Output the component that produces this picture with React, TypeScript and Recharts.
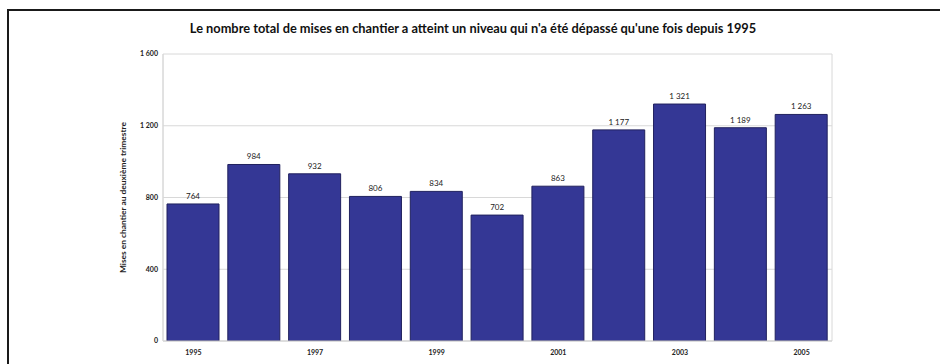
import React from 'react';
import { BarChart, Bar, XAxis, YAxis, CartesianGrid, LabelList } from 'recharts';

const years = ['1995', '1996', '1997', '1998', '1999', '2000', '2001', '2002', '2003', '2004', '2005'];
const starts = [764, 984, 932, 806, 834, 702, 863, 1177, 1321, 1189, 1263];
const yTicks = [0, 400, 800, 1200, 1600];

const title = "Le nombre total de mises en chantier a atteint un niveau qui n'a été dépassé qu'une fois depuis 1995";
const yTitle = 'Mises en chantier au deuxième trimestre';

const data = years.map((y, i) => ({ year: y, value: starts[i] }));

const fmt = (v: number) => {
  const s = String(v);
  return s.length > 3 ? s.slice(0, s.length - 3) + '\u00a0' + s.slice(s.length - 3) : s;
};

const FONT = 'Lato, "Open Sans", sans-serif';

const YLabel = (props: any) => {
  const vb = props.viewBox || {};
  const x = vb.x + 13;
  const y = vb.y + vb.height / 2;
  return (
    <text x={x} y={y} transform={`rotate(-90 ${x} ${y})`} textAnchor="middle" dominantBaseline="central"
      fontSize={8.4} fontWeight={700} fill="#222" fontFamily={FONT}>
      {yTitle}
    </text>
  );
};

export default function App() {
  return (
    <div style={{ position: 'absolute', left: 0, top: 0, width: 940, height: 364, background: '#fff', overflow: 'hidden', fontFamily: FONT }}>
      <div style={{ position: 'absolute', left: 7, top: 9, width: 933, height: 355, borderTop: '2px solid #1a1a1a', borderLeft: '2px solid #1a1a1a', boxSizing: 'border-box' }} />
      <div style={{ position: 'absolute', left: 0, width: 946, top: 20, textAlign: 'center', fontSize: 12.8, fontWeight: 700, color: '#111', lineHeight: '16px' }}>
        {title}
      </div>
      <div style={{ position: 'absolute', left: 0, top: 0 }}>
        <BarChart width={940} height={364} data={data} margin={{ top: 54, right: 108, bottom: 3, left: 110 }} barSize={52}>
          <CartesianGrid stroke="#d8d8d8" strokeWidth={1}
            verticalCoordinatesGenerator={(p: any) => [p.offset.left, p.offset.left + p.offset.width]} />
          <XAxis dataKey="year" interval={1} height={20} tickLine={false} axisLine={{ stroke: '#cfcfcf' }}
            tickMargin={3} tick={{ fontSize: 7, fontWeight: 700, fill: '#222', fontFamily: FONT }} />
          <YAxis width={53} domain={[0, 1600]} ticks={yTicks} tickFormatter={fmt} tickLine={false} tickSize={0}
            tickMargin={5} axisLine={{ stroke: '#d8d8d8' }} allowDataOverflow
            tick={{ fontSize: 7, fontWeight: 700, fill: '#222', fontFamily: FONT }}
            label={{ content: YLabel }} />
          <Bar dataKey="value" fill="#343795" stroke="#20215e" strokeWidth={1} isAnimationActive={false}>
            <LabelList dataKey="value" position="top" offset={5} formatter={(v: any) => fmt(Number(v))}
              style={{ fontSize: 8, fill: '#222', fontFamily: FONT }} />
          </Bar>
        </BarChart>
      </div>
    </div>
  );
}
